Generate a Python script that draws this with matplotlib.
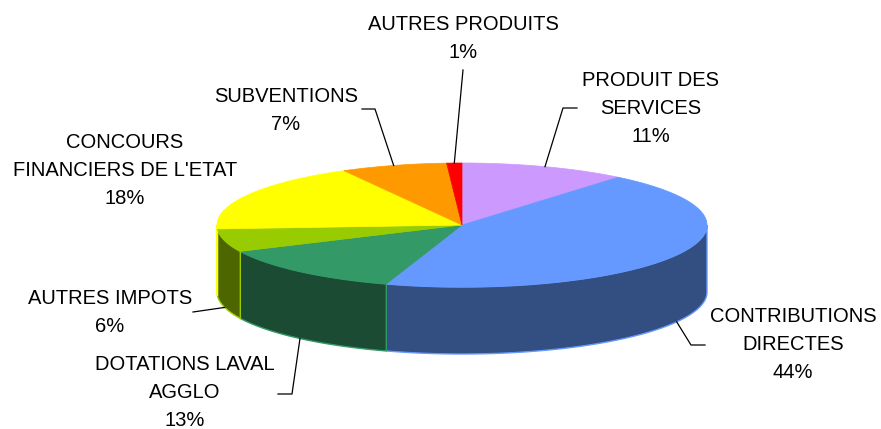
import numpy as np
import matplotlib.pyplot as plt
from matplotlib.patches import Polygon

# données du graphique (sens horaire depuis midi)
categories = ["PRODUIT DES\nSERVICES", "CONTRIBUTIONS\nDIRECTES",
              "DOTATIONS LAVAL\nAGGLO", "AUTRES IMPOTS",
              "CONCOURS\nFINANCIERS DE L'ETAT", "SUBVENTIONS",
              "AUTRES PRODUITS"]
values = [11, 44, 13, 6, 18, 7, 1]

top_colors = ["#CC99FF", "#6699FF", "#339966", "#99CC00",
              "#FFFF00", "#FF9900", "#FF0000"]
side_colors = ["#664C80", "#334E80", "#1C4B33", "#4D6600",
               "#808000", "#804C00", "#800000"]

# mise en page (pixels)
cx, cy = 462, 225
a, b = 245, 62
depth = 67
label_pos = [(651, 109), (793, 345), (185, 392), (110, 312),
             (125, 171), (286, 111), (463, 38)]
# départ du trait de rappel côté étiquette + coude, None = pas de trait
leaders = [((577, 108), (563, 108)), ((705, 345), (691, 345)),
           ((278, 394), (292, 394)), ((193, 312), (193, 312)),
           None, ((362, 109), (375, 109)), ((463, 70), (463, 70))]


def ellipse_pt(theta_deg, dy=0):
    t = np.radians(theta_deg)
    return cx + a * np.sin(t), cy - b * np.cos(t) + dy


fig = plt.figure(figsize=(8.81, 4.29), dpi=100)
ax = fig.add_axes([0, 0, 1, 1])
ax.set_xlim(0, 881)
ax.set_ylim(429, 0)
ax.axis("off")

total = float(sum(values))
bounds = np.concatenate([[0], np.cumsum(values)]) / total * 360

# faces latérales (partie avant seulement)
for i in range(len(values)):
    t0, t1 = max(bounds[i], 90), min(bounds[i + 1], 270)
    if t1 <= t0:
        continue
    th = np.linspace(t0, t1, 200)
    xs, ys = ellipse_pt(th)
    pts = np.column_stack([np.r_[xs, xs[::-1]], np.r_[ys, ys[::-1] + depth]])
    ax.add_patch(Polygon(pts, closed=True, facecolor=side_colors[i],
                         edgecolor=top_colors[i], lw=1, zorder=1))

# dessus
for i in range(len(values)):
    th = np.linspace(bounds[i], bounds[i + 1], 200)
    xs, ys = ellipse_pt(th)
    pts = np.column_stack([np.r_[cx, xs], np.r_[cy, ys]])
    ax.add_patch(Polygon(pts, closed=True, facecolor=top_colors[i],
                         edgecolor=top_colors[i], lw=0.5, zorder=2))

# étiquettes
for i, cat in enumerate(categories):
    x, y = label_pos[i]
    ax.text(x, y, "%s\n%d%%" % (cat, values[i]), ha="center", va="center",
            multialignment="center", fontsize=14.5, family="Liberation Sans",
            linespacing=1.6, color="black", zorder=4)
    if leaders[i] is None:
        continue
    mid = (bounds[i] + bounds[i + 1]) / 2
    front = 90 < mid < 270
    ex, ey = ellipse_pt(mid, depth if front else 0)
    (sx, sy), (kx, ky) = leaders[i]
    ax.plot([sx, kx, ex], [sy, ky, ey], color="black", lw=0.9, zorder=3)

fig.savefig("out.png", dpi=100)
